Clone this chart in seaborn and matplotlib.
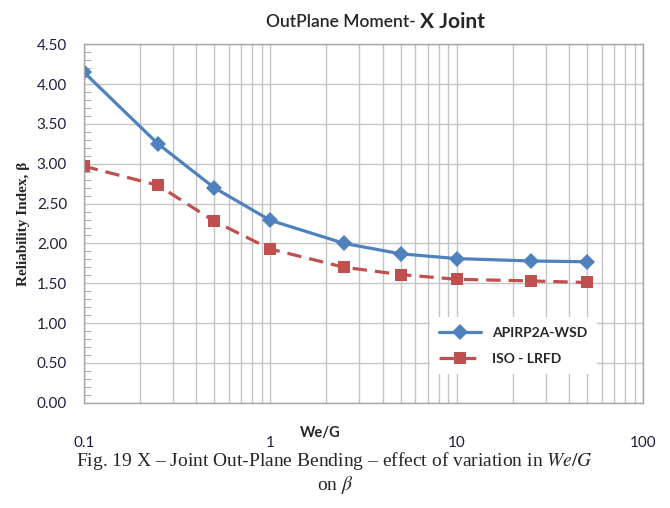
import numpy as np
import pandas as pd
import matplotlib
matplotlib.use("Agg")
import matplotlib.pyplot as plt
import seaborn as sns
from matplotlib.ticker import FixedLocator, MultipleLocator, LogLocator, NullFormatter

# dados
we_g = [0.1, 0.25, 0.5, 1, 2.5, 5, 10, 25, 50]
beta_api = [4.15, 3.25, 2.70, 2.29, 2.00, 1.87, 1.81, 1.78, 1.77]
beta_iso = [2.97, 2.73, 2.28, 1.93, 1.70, 1.61, 1.55, 1.53, 1.51]
series = ["APIRP2A-WSD", "ISO - LRFD"]
x_ticks = [0.1, 1, 10, 100]
x_labels = ["0.1", "1", "10", "100"]

df = pd.DataFrame({
    "We/G": we_g * 2,
    "beta": beta_api + beta_iso,
    "serie": [series[0]] * len(we_g) + [series[1]] * len(we_g),
})

sns.set_style("white")
plt.rcParams["font.family"] = ["Lato", "DejaVu Sans"]
plt.rcParams["mathtext.fontset"] = "stix"

fig = plt.figure(figsize=(6.7, 5.08), dpi=100)
ax = fig.add_axes([0.125, 0.207, 0.835, 0.706])

cores = {series[0]: "#4F81BD", series[1]: "#C0504D"}
sns.lineplot(data=df, x="We/G", y="beta", hue="serie", style="serie",
             palette=cores, markers={series[0]: "D", series[1]: "s"},
             dashes={series[0]: "", series[1]: (4.5, 2.5)},
             markersize=8, linewidth=2.3, markeredgewidth=0, ax=ax)

ax.set_xscale("log")
ax.set_xlim(0.1, 100)
ax.set_ylim(0, 4.5)

# grade
ax.xaxis.set_major_locator(FixedLocator(x_ticks))
ax.xaxis.set_minor_locator(LogLocator(base=10, subs=np.arange(2, 10)))
ax.xaxis.set_minor_formatter(NullFormatter())
ax.set_xticklabels(x_labels)
ax.yaxis.set_major_locator(MultipleLocator(0.5))
ax.yaxis.set_minor_locator(MultipleLocator(0.1))
ax.set_yticklabels([f"{v:.2f}" for v in ax.get_yticks()])
ax.grid(True, which="both", axis="x", color="#C4C4C4", linewidth=1)
ax.grid(True, which="major", axis="y", color="#C4C4C4", linewidth=1)
for s in ax.spines.values():
    s.set_color("#A6A6A6")
    s.set_linewidth(1)

ax.tick_params(axis="x", which="both", length=0, pad=24, labelsize=11, labelcolor="#1F1F3F")
ax.tick_params(axis="y", which="major", length=0, pad=12, labelsize=11, labelcolor="#1F1F3F")
ax.tick_params(axis="y", which="minor", direction="in", length=5, color="#A6A6A6", left=True)

ax.set_xlabel("")
ax.set_ylabel("")
fig.text(0.478, 0.147, "We/G", fontsize=10.5, fontweight="bold", ha="center", va="center")
fig.text(0.035, 0.56, "Reliability Index, β", rotation=90, fontsize=11, fontweight="bold",
         family=["Liberation Serif"], ha="center", va="center")

# titulo
fig.text(0.627, 0.957, "OutPlane Moment- ", fontsize=12.5, fontweight="semibold", ha="right", va="center")
fig.text(0.627, 0.957, "X Joint", fontsize=15, fontweight="bold", ha="left", va="center")

# legenda
leg = ax.legend(loc="lower right", bbox_to_anchor=(0.93, 0.06), frameon=True, fancybox=False,
                framealpha=1, edgecolor="white", prop={"weight": "bold", "size": 10},
                handlelength=3, labelspacing=1.0, borderpad=0.7)
leg.get_frame().set_linewidth(0)

# legenda da figura
fig.text(0.5, 0.093, "Fig. 19 X – Joint Out-Plane Bending – effect of variation in $We/G$",
         family=["Liberation Serif"], fontsize=14, ha="center", va="center")
fig.text(0.5, 0.045, r"on $\beta$", family=["Liberation Serif"], fontsize=14, ha="center", va="center")

fig.savefig("out.png", dpi=100)
